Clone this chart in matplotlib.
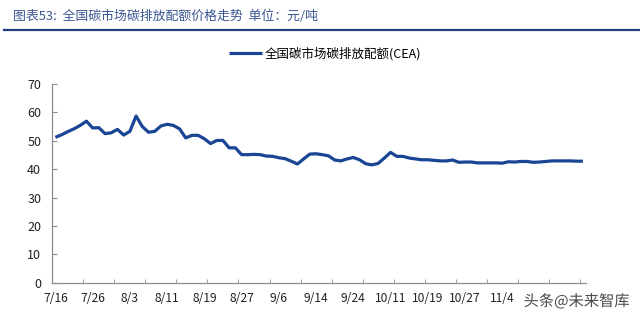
import numpy as np
import matplotlib
matplotlib.use("Agg")
import matplotlib.pyplot as plt
import matplotlib.patheffects as pe

plt.rcParams['font.family'] = ['Noto Sans CJK SC', 'DejaVu Sans']

# CEA closing price, one value per trading day from 7/16 (yuan/ton)
cea_price = [
    51.2, 52.1, 53.2, 54.2, 55.4, 56.9, 54.5, 54.6, 52.5, 52.8,
    54.0, 52.0, 53.3, 58.7, 55.0, 53.0, 53.3, 55.2, 55.8, 55.4,
    54.2, 51.0, 51.9, 51.9, 50.7, 49.0, 50.1, 50.1, 47.5, 47.5,
    45.1, 45.1, 45.2, 45.1, 44.6, 44.5, 44.0, 43.7, 42.8, 41.8,
    43.6, 45.3, 45.4, 45.1, 44.7, 43.2, 42.9, 43.6, 44.1, 43.3,
    41.9, 41.5, 42.0, 43.9, 45.9, 44.5, 44.5, 43.9, 43.6, 43.3,
    43.3, 43.1, 42.9, 42.9, 43.2, 42.4, 42.5, 42.5, 42.2, 42.2,
    42.2, 42.2, 42.1, 42.6, 42.5, 42.7, 42.7, 42.4, 42.5, 42.7,
    42.9, 42.9, 42.9, 42.9, 42.8, 42.8,
]
# a date label every 6 trading days (the last ones sit under the watermark)
date_labels = ['7/16', '7/26', '8/3', '8/11', '8/19', '8/27', '9/6', '9/14',
               '9/24', '10/11', '10/19', '10/27', '11/4']
series_name = '全国碳市场碳排放配额(CEA)'

n = len(cea_price)
x = np.arange(n)

fig = plt.figure(figsize=(6.4, 3.18), dpi=100)
ax = fig.add_axes([0.0817, 0.111, 0.834, 0.625])

ax.plot(x, cea_price, color='#1a4494', lw=2.3, solid_capstyle='butt',
        solid_joinstyle='round', label=series_name)

ax.set_xlim(-0.5, n - 0.5)
ax.set_ylim(0, 70)
ax.set_yticks(np.arange(0, 71, 10))
ax.set_xticks(np.arange(0, 6 * len(date_labels), 6))
ax.set_xticklabels(date_labels)
ax.set_xticks(np.arange(-0.5, n, 5), minor=True)

for s in ['top', 'right']:
    ax.spines[s].set_visible(False)
for s in ['left', 'bottom']:
    ax.spines[s].set_color('#8c8c8c')
    ax.spines[s].set_linewidth(0.9)

ax.tick_params(axis='x', which='major', length=0, pad=7, labelsize=8.7,
               colors='#222222')
ax.tick_params(axis='x', which='minor', length=3, direction='in',
               color='#8c8c8c')
ax.tick_params(axis='y', length=3.5, direction='in', color='#8c8c8c',
               labelsize=9, labelcolor='#222222', pad=8)

leg = ax.legend(loc='center', bbox_to_anchor=(0.508, 0.83),
                bbox_transform=fig.transFigure, frameon=False, fontsize=9,
                handlelength=2.6, handletextpad=0.2)

fig.text(0.02, 0.948, '图表53:  全国碳市场碳排放配额价格走势  单位：元/吨',
         fontsize=9.3, color='#3a5590', va='center', ha='left', style='italic')
fig.add_artist(plt.Line2D([0.006, 1.0], [0.905, 0.905], color='#1f3f7f',
                          lw=1.6, transform=fig.transFigure))

# watermark
fig.text(0.818, 0.052, '头条@未来智库', fontsize=11, color='#4a4a4a',
         va='center', ha='left',
         path_effects=[pe.withStroke(linewidth=3, foreground='white')])

fig.savefig('out.png', dpi=100)
